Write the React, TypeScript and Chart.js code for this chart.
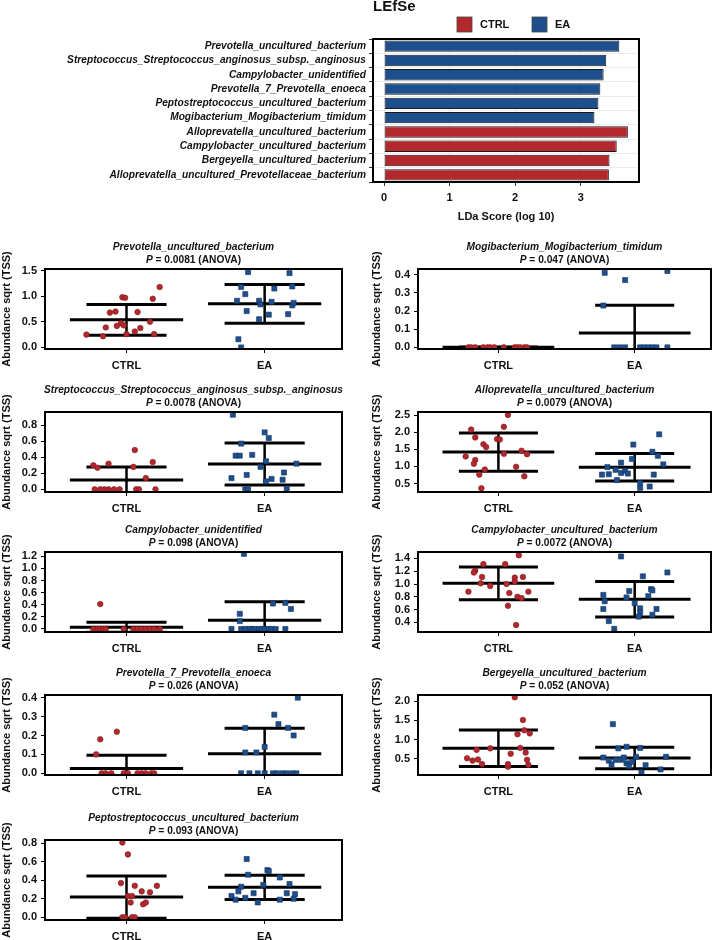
import React, { useEffect, useRef } from 'react';
import { Chart, registerables } from 'chart.js';

Chart.register(...registerables);

const FONT = '"Liberation Sans", Arial, Helvetica, sans-serif';
const CTRL_RED = '#b3282d';
const EA_BLUE = '#1c4f8c';
Chart.defaults.font.family = FONT;

// ---- LEfSe bars ----
const lefseTaxa = [
    'Prevotella_uncultured_bacterium',
    'Streptococcus_Streptococcus_anginosus_subsp._anginosus',
    'Campylobacter_unidentified',
    'Prevotella_7_Prevotella_enoeca',
    'Peptostreptococcus_uncultured_bacterium',
    'Mogibacterium_Mogibacterium_timidum',
    'Alloprevatella_uncultured_bacterium',
    'Campylobacter_uncultured_bacterium',
    'Bergeyella_uncultured_bacterium',
    'Alloprevatella_uncultured_Prevotellaceae_bacterium',
];
const lefseScores = [3.59, 3.39, 3.35, 3.3, 3.27, 3.21, 3.72, 3.55, 3.44, 3.43];
const lefseGroups = ['EA', 'EA', 'EA', 'EA', 'EA', 'EA', 'CTRL', 'CTRL', 'CTRL', 'CTRL'];
const lefseTicks = [0, 1, 2, 3];

const groups = ['CTRL', 'EA'];
const yAxisTitle = 'Abundance sqrt (TSS)';

// ---- per-taxon points: [x jitter, value] ----
const prevUncCtrl = [[-0.29, 0.25], [-0.17, 0.22], [-0.15, 0.39], [-0.12, 0.68], [-0.08, 0.7], [-0.07, 0.42], [-0.04, 0.47], [-0.03, 0.98], [-0.01, 0.97], [-0.02, 0.43], [0.0, 0.26], [0.06, 0.31], [0.08, 0.69], [0.1, 0.38], [0.17, 0.5], [0.19, 0.95], [0.2, 0.26], [0.24, 1.18]];
const prevUncEa = [[-0.19, 0.16], [-0.17, 0.0], [-0.2, 0.91], [-0.17, 1.18], [-0.14, 1.04], [-0.13, 0.71], [-0.12, 1.47], [-0.04, 0.55], [-0.04, 0.91], [-0.03, 0.84], [0.05, 0.89], [0.07, 1.15], [0.03, 0.64], [0.17, 0.65], [0.18, 1.45], [0.2, 1.19], [0.2, 0.82], [0.21, 0.87]];
const prevUncStats = [[0.54, 0.3], [0.85, 0.38]];
const prevUncTicks = [0, 0.5, 1.0, 1.5];

const mogiCtrl = [[-0.22, 0], [-0.2, 0], [-0.17, 0], [-0.11, 0], [-0.08, 0], [-0.06, 0], [-0.03, 0], [0.04, 0], [0.12, 0], [0.14, 0], [0.16, 0], [0.19, 0], [0.21, 0]];
const mogiEa = [[-0.22, 0.41], [-0.07, 0.37], [0.24, 0.42], [-0.23, 0.23], [-0.15, 0], [-0.11, 0], [-0.07, 0], [0.04, 0], [0.07, 0], [0.1, 0], [0.13, 0], [0.16, 0], [0.24, 0]];
const mogiStats = [[0, 0], [0.079, 0.153]];
const mogiTicks = [0, 0.1, 0.2, 0.3, 0.4];

const strepCtrl = [[-0.24, 0.3], [-0.21, 0.27], [-0.13, 0.32], [0.06, 0.49], [0.05, 0.28], [0.14, 0.14], [0.19, 0.34], [-0.23, 0], [-0.19, 0], [-0.16, 0], [-0.13, 0], [-0.09, 0], [-0.05, 0], [0.07, 0], [0.09, 0], [0.21, 0]];
const strepEa = [[-0.23, 0.93], [-0.17, 0.57], [-0.21, 0.42], [-0.18, 0.42], [-0.09, 0.43], [0.0, 0.71], [0.03, 0.64], [-0.03, 0.28], [0.01, 0.35], [-0.13, 0.18], [-0.24, 0.14], [0.01, 0.1], [0.05, 0.13], [0.14, 0.21], [0.13, 0.12], [0.23, 0.32], [-0.14, 0], [-0.12, 0], [0.16, 0]];
const strepStats = [[0.115, 0.165], [0.316, 0.261]];
const strepTicks = [0, 0.2, 0.4, 0.6, 0.8];

const alloCtrl = [[-0.125, 0.36], [-0.24, 1.29], [-0.2, 2.08], [-0.17, 1.85], [-0.11, 1.65], [-0.09, 1.57], [-0.17, 1.19], [-0.18, 1.08], [-0.1, 0.91], [-0.14, 0.76], [-0.01, 1.8], [0.01, 1.79], [0.04, 1.37], [0.04, 2.16], [0.07, 2.51], [0.13, 0.99], [0.17, 1.46], [0.21, 1.36], [0.19, 0.71]];
const alloEa = [[-0.24, 0.76], [-0.19, 0.77], [-0.2, 0.98], [-0.13, 0.6], [-0.1, 1.11], [-0.1, 0.81], [-0.14, 0.9], [-0.07, 0.87], [-0.05, 0.79], [-0.02, 1.22], [-0.01, 1.64], [0.04, 0.51], [0.04, 0.37], [0.11, 0.41], [0.13, 1.43], [0.17, 1.31], [0.21, 1.06], [0.14, 0.76], [0.18, 1.94]];
const alloStats = [[1.42, 0.56], [0.976, 0.405]];
const alloTicks = [0.5, 1.0, 1.5, 2.0, 2.5];

const campyUnidCtrl = [[-0.19, 0.41], [-0.24, 0], [-0.21, 0], [-0.19, 0], [-0.17, 0], [-0.15, 0], [-0.02, 0], [0.05, 0], [0.08, 0], [0.11, 0], [0.14, 0], [0.17, 0], [0.2, 0], [0.24, 0]];
const campyUnidEa = [[-0.15, 1.24], [-0.18, 0.25], [-0.18, 0.13], [0.06, 0.42], [0.15, 0.43], [0.19, 0.33], [-0.24, 0], [-0.17, 0], [-0.14, 0], [-0.11, 0], [-0.09, 0], [-0.07, 0], [-0.04, 0], [-0.02, 0], [0.0, 0], [0.03, 0], [0.05, 0], [0.08, 0], [0.15, 0]];
const campyUnidStats = [[0.028, 0.082], [0.144, 0.306]];
const campyUnidTicks = [0, 0.2, 0.4, 0.6, 0.8, 1.0, 1.2];

const campyUncCtrl = [[-0.17, 1.21], [-0.18, 1.18], [-0.11, 1.31], [-0.12, 1.11], [-0.13, 1.01], [-0.06, 0.97], [-0.22, 0.88], [0.05, 1.31], [0.12, 1.1], [0.12, 1.04], [0.06, 1.0], [0.08, 0.86], [0.07, 0.66], [0.14, 0.8], [0.17, 0.78], [0.18, 1.11], [0.22, 0.88], [0.13, 0.36], [0.15, 1.45]];
const campyUncEa = [[-0.1, 1.43], [-0.23, 0.83], [-0.22, 0.73], [-0.23, 0.61], [-0.19, 0.42], [-0.15, 0.3], [-0.06, 0.79], [-0.04, 0.89], [0.0, 0.7], [0.04, 0.62], [0.04, 0.55], [0.03, 0.49], [0.06, 1.12], [0.1, 0.81], [0.12, 0.92], [0.13, 0.9], [0.13, 0.52], [0.16, 0.61], [0.24, 1.18]];
const campyUncStats = [[1.01, 0.257], [0.763, 0.277]];
const campyUncTicks = [0.4, 0.6, 0.8, 1.0, 1.2, 1.4];

const prev7Ctrl = [[-0.19, 0.18], [-0.07, 0.22], [-0.22, 0.1], [-0.18, 0], [-0.15, 0], [-0.11, 0], [-0.02, 0], [0.01, 0], [0.08, 0], [0.11, 0], [0.14, 0], [0.18, 0], [0.2, 0]];
const prev7Ea = [[-0.14, 0.24], [-0.14, 0.11], [-0.06, 0.11], [0.0, 0.14], [0.07, 0.31], [0.1, 0.26], [0.17, 0.24], [0.21, 0.2], [0.24, 0.4], [-0.17, 0], [-0.11, 0], [-0.05, 0], [0.0, 0], [0.06, 0], [0.09, 0], [0.13, 0], [0.16, 0], [0.2, 0], [0.23, 0]];
const prev7Stats = [[0.026, 0.069], [0.104, 0.134]];
const prev7Ticks = [0, 0.1, 0.2, 0.3, 0.4];

const bergCtrl = [[0.12, 2.1], [0.18, 1.51], [0.19, 1.24], [0.14, 1.14], [0.23, 1.16], [0.16, 0.78], [0.2, 0.66], [0.21, 0.47], [0.22, 0.34], [0.09, 0.63], [0.07, 0.29], [0.07, 0.36], [-0.06, 0.77], [-0.16, 0.73], [-0.23, 0.51], [-0.19, 0.45], [-0.15, 0.48], [-0.12, 0.36]];
const bergEa = [[-0.16, 1.4], [-0.06, 0.81], [-0.12, 0.77], [0.04, 0.78], [-0.23, 0.53], [-0.19, 0.45], [-0.17, 0.35], [-0.14, 0.47], [-0.1, 0.47], [-0.08, 0.53], [-0.06, 0.38], [-0.04, 0.31], [-0.02, 0.42], [0.01, 0.55], [0.05, 0.15], [0.08, 0.33], [0.19, 0.22], [0.23, 0.55]];
const bergStats = [[0.77, 0.475], [0.517, 0.278]];
const bergTicks = [0.5, 1.0, 1.5, 2.0];

const peptoCtrl = [[-0.03, 0.81], [0.01, 0.68], [-0.04, 0.37], [0.06, 0.34], [0.11, 0.28], [0.17, 0.27], [0.22, 0.34], [0.01, 0.23], [0.04, 0.23], [0.03, 0.16], [0.12, 0.14], [0.14, 0.16], [-0.03, 0], [-0.01, 0], [0.04, 0], [0.06, 0]];
const peptoEa = [[-0.13, 0.63], [-0.12, 0.46], [0.02, 0.51], [0.03, 0.5], [0.11, 0.43], [0.18, 0.36], [-0.01, 0.35], [-0.17, 0.33], [-0.19, 0.28], [-0.24, 0.23], [-0.21, 0.19], [-0.14, 0.21], [-0.08, 0.26], [-0.05, 0.16], [0.11, 0.19], [0.16, 0.26], [0.22, 0.25], [0.21, 0.2]];
const peptoStats = [[0.218, 0.229], [0.324, 0.131]];
const peptoTicks = [0, 0.2, 0.4, 0.6, 0.8];

const leftPanels = [
    { title: 'Prevotella_uncultured_bacterium', p: '0.0081', ctrl: prevUncCtrl, ea: prevUncEa, stats: prevUncStats, ticks: prevUncTicks, yMin: -0.03, yMax: 1.53 },
    { title: 'Streptococcus_Streptococcus_anginosus_subsp._anginosus', p: '0.0078', ctrl: strepCtrl, ea: strepEa, stats: strepStats, ticks: strepTicks, yMin: -0.033, yMax: 0.964 },
    { title: 'Campylobacter_unidentified', p: '0.098', ctrl: campyUnidCtrl, ea: campyUnidEa, stats: campyUnidStats, ticks: campyUnidTicks, yMin: -0.05, yMax: 1.27 },
    { title: 'Prevotella_7_Prevotella_enoeca', p: '0.026', ctrl: prev7Ctrl, ea: prev7Ea, stats: prev7Stats, ticks: prev7Ticks, yMin: -0.009, yMax: 0.414 },
    { title: 'Peptostreptococcus_uncultured_bacterium', p: '0.093', ctrl: peptoCtrl, ea: peptoEa, stats: peptoStats, ticks: peptoTicks, yMin: -0.03, yMax: 0.836 },
];
const rightPanels = [
    { title: 'Mogibacterium_Mogibacterium_timidum', p: '0.047', ctrl: mogiCtrl, ea: mogiEa, stats: mogiStats, ticks: mogiTicks, yMin: -0.009, yMax: 0.431 },
    { title: 'Alloprevatella_uncultured_bacterium', p: '0.0079', ctrl: alloCtrl, ea: alloEa, stats: alloStats, ticks: alloTicks, yMin: 0.25, yMax: 2.595 },
    { title: 'Campylobacter_uncultured_bacterium', p: '0.0072', ctrl: campyUncCtrl, ea: campyUncEa, stats: campyUncStats, ticks: campyUncTicks, yMin: 0.25, yMax: 1.5 },
    { title: 'Bergeyella_uncultured_bacterium', p: '0.052', ctrl: bergCtrl, ea: bergEa, stats: bergStats, ticks: bergTicks, yMin: 0.075, yMax: 2.16 },
];
const rowTops = [236, 379, 519, 662, 807];

const boldFont = (size: number, italic = false) => ({ family: FONT, size, weight: 'bold' as const, style: italic ? ('italic' as const) : ('normal' as const) });

const frameBox = (chart: Chart) => {
    const { ctx, chartArea: a } = chart;
    ctx.save();
    ctx.strokeStyle = '#000';
    ctx.lineWidth = 2;
    ctx.strokeRect(a.left, a.top, a.right - a.left, a.bottom - a.top);
    ctx.restore();
};

const lefseDecor = {
    id: 'lefseDecor',
    afterDatasetsDraw: frameBox,
    afterDraw(chart: Chart) {
        const { ctx, chartArea: a } = chart;
        ctx.save();
        ctx.fillStyle = '#111';
        ctx.textBaseline = 'middle';
        ctx.textAlign = 'left';
        ctx.font = `bold 15px ${FONT}`;
        ctx.fillText('LEfSe', a.left, 7);
        let x = a.left + 84;
        groups.forEach((g) => {
            ctx.fillStyle = g === 'CTRL' ? CTRL_RED : EA_BLUE;
            ctx.fillRect(x, 17, 15, 15);
            ctx.strokeStyle = '#444';
            ctx.lineWidth = 0.8;
            ctx.strokeRect(x, 17, 15, 15);
            ctx.fillStyle = '#111';
            ctx.font = `bold 11px ${FONT}`;
            ctx.fillText(g, x + 23, 25);
            x += 75;
        });
        ctx.restore();
    },
};

const LefseChart = () => {
    const chartRef = useRef<HTMLCanvasElement | null>(null);

    useEffect(() => {
        const ctx = chartRef.current?.getContext('2d');
        if (!ctx) return;
        const chart = new Chart(ctx, {
            type: 'bar',
            data: {
                labels: lefseTaxa,
                datasets: groups.map((g) => ({
                    label: g,
                    data: lefseScores.map((v, i) => (lefseGroups[i] === g ? v : null)),
                    backgroundColor: g === 'CTRL' ? CTRL_RED : EA_BLUE,
                    borderColor: '#1a1a1a',
                    borderWidth: 1,
                    borderSkipped: false,
                    barPercentage: 0.8,
                    categoryPercentage: 1,
                })),
            },
            options: {
                indexAxis: 'y',
                animation: false,
                responsive: true,
                maintainAspectRatio: false,
                events: [],
                layout: { padding: { top: 39, right: 79, left: 0, bottom: 0 } },
                plugins: { legend: { display: false }, tooltip: { enabled: false } },
                scales: {
                    x: {
                        stacked: true,
                        min: -0.17,
                        max: 3.89,
                        afterBuildTicks: (s) => {
                            s.ticks = lefseTicks.map((v) => ({ value: v }));
                        },
                        ticks: { font: boldFont(11), color: '#111', padding: 5 },
                        grid: { color: '#ececec', tickColor: '#333', tickLength: 4 },
                        border: { display: false },
                        title: { display: true, text: 'LDa Score (log 10)', font: boldFont(11), color: '#111', padding: { top: 4, bottom: 8 } },
                        afterFit: (s) => {
                            s.height = 50;
                        },
                    },
                    y: {
                        stacked: true,
                        ticks: { autoSkip: false, font: boldFont(10.2, true), color: '#111', padding: 3 },
                        grid: { color: '#ececec', tickColor: '#333', tickLength: 4 },
                        border: { display: false },
                        afterFit: (s) => {
                            s.width = 373;
                        },
                    },
                },
            },
            plugins: [lefseDecor],
        });
        return () => chart.destroy();
    }, []);

    return (
        <div style={{ position: 'absolute', left: 0, top: 0, width: 718, height: 232 }}>
            <canvas ref={chartRef} />
        </div>
    );
};

const MEAN_HALF = 0.41;
const CAP_HALF = 0.29;

const errorSegments = (center: number, mean: number, sd: number) => {
    const seg = (pts, width) => ({
        data: pts,
        showLine: true,
        borderColor: '#000',
        borderWidth: width,
        borderCapStyle: 'butt',
        pointRadius: 0,
        clip: 0,
    });
    return [
        seg([{ x: center - MEAN_HALF, y: mean }, { x: center + MEAN_HALF, y: mean }], 3),
        seg([{ x: center - CAP_HALF, y: mean + sd }, { x: center + CAP_HALF, y: mean + sd }], 3),
        seg([{ x: center - CAP_HALF, y: mean - sd }, { x: center + CAP_HALF, y: mean - sd }], 3),
        seg([{ x: center, y: mean - sd }, { x: center, y: mean + sd }], 2.5),
    ];
};

const panelDecor = (title: string, p: string) => ({
    id: 'panelDecor',
    afterDatasetsDraw: frameBox,
    afterDraw(chart: Chart) {
        const { ctx, chartArea: a } = chart;
        const cx = (a.left + a.right) / 2;
        const italic = `italic bold 10.2px ${FONT}`;
        const bold = `bold 10.2px ${FONT}`;
        ctx.save();
        ctx.fillStyle = '#111';
        ctx.textBaseline = 'middle';
        ctx.textAlign = 'center';
        ctx.font = italic;
        ctx.fillText(title, cx, 11);
        const rest = ` = ${p} (ANOVA)`;
        const w1 = ctx.measureText('P').width;
        ctx.font = bold;
        const w2 = ctx.measureText(rest).width;
        const x0 = cx - (w1 + w2) / 2;
        ctx.textAlign = 'left';
        ctx.font = italic;
        ctx.fillText('P', x0, 24);
        ctx.font = bold;
        ctx.fillText(rest, x0 + w1, 24);
        ctx.restore();
    },
});

const ScatterPanel = ({ title, p, ctrl, ea, stats, ticks, yMin, yMax, right, top }) => {
    const chartRef = useRef<HTMLCanvasElement | null>(null);

    useEffect(() => {
        const ctx = chartRef.current?.getContext('2d');
        if (!ctx) return;
        const chart = new Chart(ctx, {
            type: 'scatter',
            data: {
                datasets: [
                    {
                        label: 'CTRL',
                        data: ctrl.map(([dx, y]) => ({ x: 1 + dx, y })),
                        pointStyle: 'circle',
                        pointRadius: 2.8,
                        backgroundColor: CTRL_RED,
                        borderColor: '#7d1b1f',
                        borderWidth: 0.6,
                    },
                    {
                        label: 'EA',
                        data: ea.map(([dx, y]) => ({ x: 2 + dx, y })),
                        pointStyle: 'rect',
                        pointRadius: 3.6,
                        backgroundColor: EA_BLUE,
                        borderColor: '#12335f',
                        borderWidth: 0.6,
                    },
                    ...stats.flatMap(([m, sd], gi) => errorSegments(gi + 1, m, sd)),
                ],
            },
            options: {
                animation: false,
                responsive: true,
                maintainAspectRatio: false,
                events: [],
                layout: { padding: { top: 33, left: right ? 11 : 0, right: right ? 7 : 17, bottom: 0 } },
                plugins: { legend: { display: false }, tooltip: { enabled: false } },
                scales: {
                    x: {
                        type: 'linear',
                        min: 0.41,
                        max: 2.56,
                        afterBuildTicks: (s) => {
                            s.ticks = groups.map((_, i) => ({ value: i + 1 }));
                        },
                        ticks: { callback: (v) => groups[Math.round(v) - 1], font: boldFont(11), color: '#111', padding: 6, maxRotation: 0, autoSkip: false },
                        grid: { drawOnChartArea: false, color: '#000', tickLength: 4 },
                        border: { display: false },
                        afterFit: (s) => {
                            s.height = 30;
                        },
                    },
                    y: {
                        min: yMin,
                        max: yMax,
                        afterBuildTicks: (s) => {
                            s.ticks = ticks.map((v) => ({ value: v }));
                        },
                        ticks: { callback: (v) => Number(v).toFixed(1), font: boldFont(11), color: '#111', padding: 4, autoSkip: false },
                        grid: { drawOnChartArea: false, color: '#000', tickLength: 4 },
                        border: { display: false },
                        title: { display: true, text: yAxisTitle, font: boldFont(11), color: '#111', padding: 0 },
                        afterFit: (s) => {
                            s.width = right ? 48 : 45;
                        },
                    },
                },
            },
            plugins: [panelDecor(title, p)],
        });
        return () => chart.destroy();
    }, [title, p, ctrl, ea, stats, ticks, yMin, yMax, right]);

    return (
        <div style={{ position: 'absolute', left: right ? 359 : 0, top, width: 359, height: 143 }}>
            <canvas ref={chartRef} />
        </div>
    );
};

export default function App() {
    useEffect(() => {
        document.body.style.margin = '0';
    }, []);

    return (
        <div style={{ position: 'relative', width: 718, height: 940, background: '#fff', overflow: 'hidden' }}>
            <LefseChart />
            {leftPanels.map((panel, i) => (
                <ScatterPanel key={panel.title} {...panel} right={false} top={rowTops[i]} />
            ))}
            {rightPanels.map((panel, i) => (
                <ScatterPanel key={panel.title} {...panel} right={true} top={rowTops[i]} />
            ))}
        </div>
    );
}
